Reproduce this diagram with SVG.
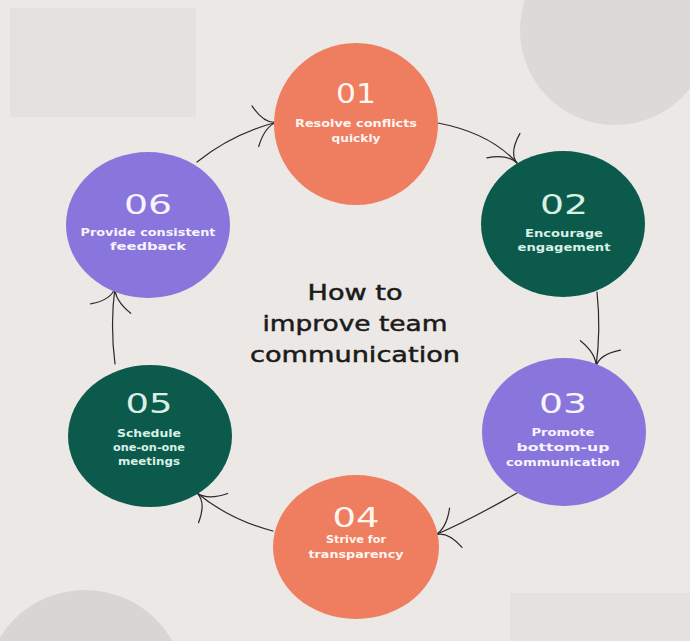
<svg xmlns="http://www.w3.org/2000/svg" width="690" height="641" viewBox="0 0 690 641">
<style>
.num{font-family:"DejaVu Sans","Liberation Sans",sans-serif;font-size:27px;text-anchor:middle}
.lbl{font-family:"DejaVu Sans","Liberation Sans",sans-serif;font-size:10.5px;font-weight:bold;text-anchor:middle}
.title{font-family:"DejaVu Sans","Liberation Sans",sans-serif;font-size:22px;fill:#1b1b1b;stroke:#1b1b1b;stroke-width:0.5;text-anchor:middle}
.coral{fill:#ef7d60}
.green{fill:#0c5a4c}
.purple{fill:#8876dc}
.tw{fill:#fff6f0}
.tg{fill:#d8f0e6}
.tp{fill:#f7f4ff}
.conn{fill:none;stroke:#2a2a2a;stroke-width:1.2;stroke-linecap:round}
</style>
<defs>
<marker id="barb" markerUnits="userSpaceOnUse" markerWidth="60" markerHeight="60" refX="0" refY="0" viewBox="-30 -30 60 60" orient="auto" overflow="visible">
<path d="M0,0 Q-13,-1 -20,-22 M0,0 Q-13,1 -24,19" fill="none" stroke="#2a2a2a" stroke-width="1.2" stroke-linecap="round"/>
</marker>
</defs>
<rect width="690" height="641" fill="#ebe8e5"/>
<g id="background-texture">
<rect x="10" y="8" width="186" height="109" fill="#e4e1de"/>
<circle cx="615" cy="30" r="95" fill="#dcd9d6"/>
<circle cx="85" cy="690" r="100" fill="#d8d5d2"/>
<rect x="510" y="593" width="180" height="48" fill="#e4e1de"/>
</g>
<g id="connectors">
<path class="conn" d="M197,162 Q232,134 277,122" marker-end="url(#barb)"/>
<path class="conn" d="M438,123 Q490,133 517,163" marker-end="url(#barb)"/>
<path class="conn" d="M597,292 Q601,330 596,367" marker-end="url(#barb)"/>
<path class="conn" d="M517,493 Q470,520 435,535" marker-end="url(#barb)"/>
<path class="conn" d="M273,531 Q230,520 197,493" marker-end="url(#barb)"/>
<path class="conn" d="M115,364 Q110,325 115,287" marker-end="url(#barb)"/>
</g>
<g id="title">
<text class="title" x="355" y="300" textLength="95" lengthAdjust="spacingAndGlyphs">How to</text>
<text class="title" x="355" y="331" textLength="185" lengthAdjust="spacingAndGlyphs">improve team</text>
<text class="title" x="355" y="362" textLength="210" lengthAdjust="spacingAndGlyphs">communication</text>
</g>
<g id="node-01">
<ellipse class="coral" cx="356" cy="124" rx="82" ry="81"/>
<text class="num tw" x="356" y="103" textLength="40" lengthAdjust="spacingAndGlyphs">01</text>
<text class="lbl tw" x="356" y="127" textLength="122" lengthAdjust="spacingAndGlyphs">Resolve conflicts</text>
<text class="lbl tw" x="356" y="142" textLength="49" lengthAdjust="spacingAndGlyphs">quickly</text>
</g>
<g id="node-02">
<ellipse class="green" cx="563" cy="224" rx="82" ry="73"/>
<text class="num tg" x="564" y="214" textLength="48" lengthAdjust="spacingAndGlyphs">02</text>
<text class="lbl tg" x="564" y="237" textLength="78" lengthAdjust="spacingAndGlyphs">Encourage</text>
<text class="lbl tg" x="564" y="251" textLength="93" lengthAdjust="spacingAndGlyphs">engagement</text>
</g>
<g id="node-03">
<ellipse class="purple" cx="564" cy="432" rx="82" ry="74"/>
<text class="num tp" x="563" y="413" textLength="48" lengthAdjust="spacingAndGlyphs">03</text>
<text class="lbl tp" x="563" y="436" textLength="63" lengthAdjust="spacingAndGlyphs">Promote</text>
<text class="lbl tp" x="563" y="451" textLength="93" lengthAdjust="spacingAndGlyphs">bottom-up</text>
<text class="lbl tp" x="563" y="466" textLength="114" lengthAdjust="spacingAndGlyphs">communication</text>
</g>
<g id="node-04">
<ellipse class="coral" cx="356" cy="547" rx="83" ry="72"/>
<text class="num tw" x="356" y="527" textLength="47" lengthAdjust="spacingAndGlyphs">04</text>
<text class="lbl tw" x="356" y="543" textLength="60" lengthAdjust="spacingAndGlyphs">Strive for</text>
<text class="lbl tw" x="356" y="558" textLength="95" lengthAdjust="spacingAndGlyphs">transparency</text>
</g>
<g id="node-05">
<ellipse class="green" cx="150" cy="436" rx="82" ry="71"/>
<text class="num tg" x="149" y="413" textLength="47" lengthAdjust="spacingAndGlyphs">05</text>
<text class="lbl tg" x="149" y="437" textLength="64" lengthAdjust="spacingAndGlyphs">Schedule</text>
<text class="lbl tg" x="149" y="451" textLength="72" lengthAdjust="spacingAndGlyphs">one-on-one</text>
<text class="lbl tg" x="149" y="465" textLength="62" lengthAdjust="spacingAndGlyphs">meetings</text>
</g>
<g id="node-06">
<ellipse class="purple" cx="148" cy="225" rx="82" ry="73"/>
<text class="num tp" x="148" y="214" textLength="48" lengthAdjust="spacingAndGlyphs">06</text>
<text class="lbl tp" x="148" y="236" textLength="135" lengthAdjust="spacingAndGlyphs">Provide consistent</text>
<text class="lbl tp" x="148" y="250" textLength="76" lengthAdjust="spacingAndGlyphs">feedback</text>
</g>
</svg>
